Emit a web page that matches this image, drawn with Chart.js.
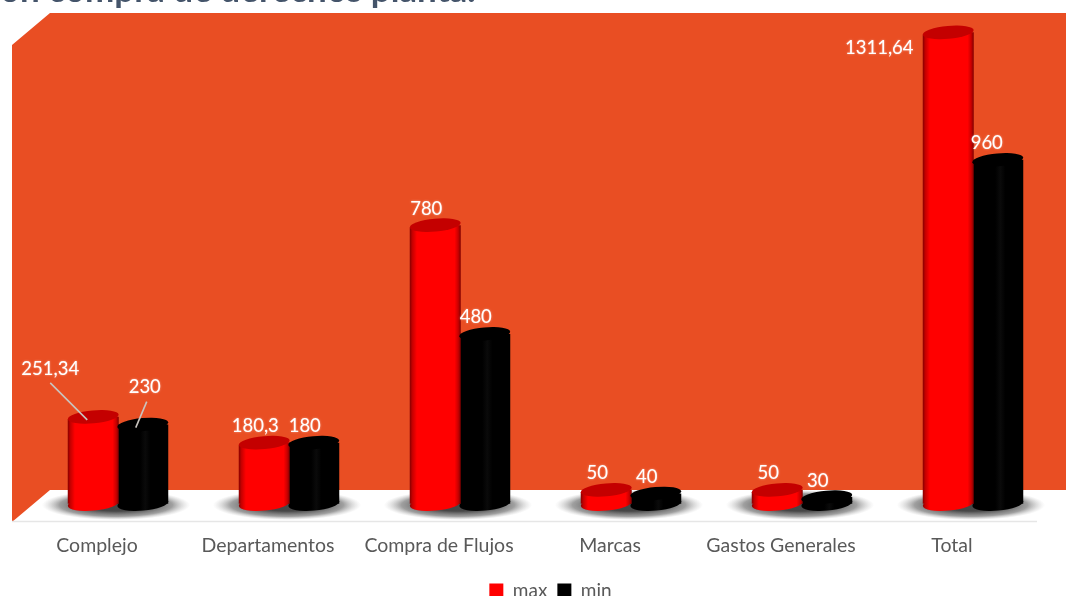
<!DOCTYPE html>
<html>
<head>
<meta charset="utf-8">
<style>
html,body{margin:0;padding:0;background:#fff;overflow:hidden}
#wrap{position:absolute;left:0;top:0;width:1066px;height:596px}
canvas{display:block;filter:blur(.5px)}
</style>
<script src="https://cdn.jsdelivr.net/npm/chart.js@4/dist/chart.umd.js"></script>
</head>
<body>
<div id="wrap"><canvas id="c" width="1066" height="596"></canvas></div>
<script>
const titleText = "ón compra de derechos planta.";
const categories = ["Complejo","Departamentos","Compra de Flujos","Marcas","Gastos Generales","Total"];
const maxValues = [251.34,180.3,780,50,50,1311.64];
const minValues = [230,180,480,40,30,960];
const seriesNames = ["max","min"];
const legendColors = ["#FF0000","#000000"];

const FONT = 'Lato, "Open Sans", sans-serif';
const palette = [
  {stops:[[0,'#860000'],[.05,'#c40000'],[.14,'#ff0000'],[.88,'#ff0000'],[.95,'#c80000'],[1,'#800000']],cap:'#c40000'},
  {stops:[[0,'#000'],[.45,'#000'],[.55,'#0a0a0a'],[.65,'#000'],[1,'#000']],cap:'#000'}
];
const BASE = 12, RY = 7, CAP_RY = 6.5, TILT = -0.09, LEGEND_SHIFT = 5;
const labelShift = [
  {0:[-43,-48],5:[-69,16]},
  {0:[2,-38],5:[-11,-16.5]}
];
const leaders = [
  {0:[[-43,-34],[-6,3]]},
  {0:[[4,-23],[-7,3]]}
];

function barX(chart,ds,i){
  const sc = chart.scales.x, slot = sc.width/categories.length*0.579/2;
  return sc.getPixelForTick(i) + (ds===0?-1:1)*slot/2;
}
function gradFor(chart,ds,i,w){
  const x = barX(chart,ds,i), g = chart.ctx.createLinearGradient(x-w/2,0,x+w/2,0);
  palette[ds].stops.forEach(s=>g.addColorStop(s[0],s[1]));
  return g;
}
function cylFill(ctx){
  const c = ctx.chart;
  if(!c.scales.x || !c.scales.x.width) return palette[ctx.datasetIndex].cap;
  const w = c.scales.x.width/categories.length*0.579/2*1.03;
  return gradFor(c,ctx.datasetIndex,ctx.dataIndex,w);
}

const scenePlugin = {
  id:'scene',
  afterLayout(chart){
    chart.legend.left += LEGEND_SHIFT;
    chart.legend.right += LEGEND_SHIFT;
  },
  beforeDraw(chart){
    const g = chart.ctx;
    g.save();
    g.font = 'bold 35px '+FONT; g.fillStyle = '#44546A'; g.textBaseline='alphabetic';
    g.fillText(titleText,0,2);
    g.fillStyle='#E94E23';
    g.beginPath();
    g.moveTo(12,45);g.lineTo(50,13);g.lineTo(1066,13);g.lineTo(1066,490);
    g.lineTo(50,490);g.lineTo(12,522);g.closePath();g.fill();
    g.strokeStyle='#E6E6E6';g.lineWidth=1.5;
    g.beginPath();g.moveTo(12,521.5);g.lineTo(1037,521.5);g.stroke();
    g.restore();
    g.save();
    g.beginPath();g.rect(14,490,1052,31);g.clip();
    categories.forEach((_,i)=>{
      const cx = chart.scales.x.getPixelForTick(i)-2;
      g.save();
      g.translate(cx,505);g.scale(1,15/74);
      const r = g.createRadialGradient(0,0,30,0,0,74);
      r.addColorStop(0,'rgba(50,50,50,.9)');
      r.addColorStop(.6,'rgba(95,95,95,.6)');
      r.addColorStop(1,'rgba(170,170,170,0)');
      g.fillStyle=r;g.beginPath();g.arc(0,0,74,0,Math.PI*2);g.fill();
      g.restore();
    });
    g.restore();
  },
  beforeDatasetsDraw(chart){
    const g = chart.ctx, y = chart.scales.y;
    [1,0].forEach(ds=>{
      chart.getDatasetMeta(ds).data.forEach((el,i)=>{
        const w = el.width;
        g.fillStyle = gradFor(chart,ds,i,w);
        g.beginPath();g.ellipse(el.x,y.getPixelForValue(BASE),w/2,RY,TILT,0,Math.PI*2);g.fill();
      });
    });
  },
  beforeDatasetDraw(chart,args){
    const g = chart.ctx, dy = Math.sin(-TILT)*25;
    g.save();
    g.beginPath();
    args.meta.data.forEach(el=>{
      const l = el.x-el.width/2-1, r = el.x+el.width/2+1;
      g.moveTo(l,el.y+dy);g.lineTo(r,el.y-dy);g.lineTo(r,596);g.lineTo(l,596);g.closePath();
    });
    g.clip();
  },
  afterDatasetDraw(chart){ chart.ctx.restore(); },
  afterDatasetsDraw(chart){
    const g = chart.ctx;
    [0,1].forEach(ds=>{
      chart.getDatasetMeta(ds).data.forEach((el,i)=>{
        g.fillStyle = palette[ds].cap;
        g.beginPath();g.ellipse(el.x,el.y,el.width/2,CAP_RY,TILT,0,Math.PI*2);g.fill();
      });
    });
    g.save();
    g.strokeStyle='#C9C4BF';g.lineWidth=1.6;
    chart.data.datasets.forEach((d,ds)=>{
      chart.getDatasetMeta(ds).data.forEach((el,i)=>{
        const l = leaders[ds][i];
        if(l){g.beginPath();g.moveTo(el.x+l[0][0],el.y+l[0][1]);g.lineTo(el.x+l[1][0],el.y+l[1][1]);g.stroke();}
      });
    });
    g.font='18.5px '+FONT;g.textAlign='center';g.textBaseline='middle';g.fillStyle='#FFFFFF';
    g.shadowColor='rgba(255,255,255,.55)';g.shadowBlur=2;
    chart.data.datasets.forEach((d,ds)=>{
      chart.getDatasetMeta(ds).data.forEach((el,i)=>{
        const s = (labelShift[ds]||{})[i] || [-9,-16.5];
        g.fillText(String(d.data[i]).replace('.',','),el.x+s[0],el.y+s[1]);
      });
    });
    g.restore();
  }
};

new Chart(document.getElementById('c'),{
  type:'bar',
  data:{
    labels:categories,
    datasets:[
      {label:seriesNames[0],data:maxValues,base:BASE,backgroundColor:cylFill,borderWidth:0,barPercentage:1.03,categoryPercentage:0.579},
      {label:seriesNames[1],data:minValues,base:BASE,backgroundColor:cylFill,borderWidth:0,barPercentage:1.03,categoryPercentage:0.579}
    ]
  },
  options:{
    responsive:false,animation:false,
    layout:{padding:{left:32.5,right:7.5,top:13,bottom:-14}},
    scales:{
      x:{
        grid:{display:false},border:{display:false},
        ticks:{font:{family:FONT,size:19.5},color:'#595959',labelOffset:-21,padding:18,maxRotation:0,autoSkip:false},
        afterFit(s){s.height=63;}
      },
      y:{display:false,min:0,max:1365}
    },
    plugins:{
      title:{display:false},
      tooltip:{enabled:false},
      legend:{
        position:'bottom',
        labels:{
          font:{family:FONT,size:19},color:'#595959',boxWidth:14,boxHeight:14,padding:10,
          generateLabels(chart){
            return Chart.defaults.plugins.legend.labels.generateLabels(chart).map((it,i)=>Object.assign(it,{fillStyle:legendColors[i],strokeStyle:legendColors[i],lineWidth:0}));
          }
        }
      }
    }
  },
  plugins:[scenePlugin]
});
</script>
</body>
</html>
